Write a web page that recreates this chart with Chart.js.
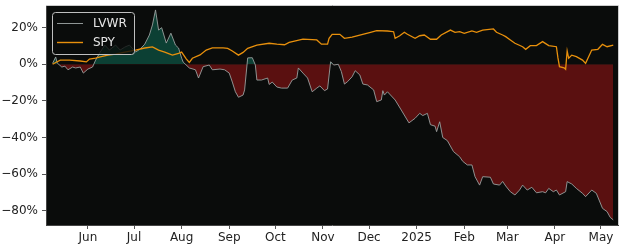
<!DOCTYPE html>
<html>
<head>
<meta charset="utf-8">
<script src="https://cdn.jsdelivr.net/npm/chart.js@4.4.1/dist/chart.umd.min.js"></script>
<style>
  body { margin: 0; background: #ffffff; }
  #wrap { width: 625px; height: 250px; }
</style>
</head>
<body>
<div id="wrap"><canvas id="myChart" width="625" height="250"></canvas></div>
<script>
// LVWR return vs SPY, % since start
var lvwrDates = ['2024-05-09','2024-05-11','2024-05-12','2024-05-15','2024-05-17','2024-05-19','2024-05-22','2024-05-24','2024-05-27','2024-05-29',
    '2024-06-01','2024-06-04','2024-06-06','2024-06-09','2024-06-12','2024-06-15','2024-06-19','2024-06-22','2024-06-25','2024-06-28',
    '2024-07-02','2024-07-05','2024-07-08','2024-07-11','2024-07-13','2024-07-15','2024-07-17','2024-07-19','2024-07-22','2024-07-25',
    '2024-07-28','2024-07-30','2024-08-01','2024-08-02','2024-08-06','2024-08-10','2024-08-12','2024-08-15','2024-08-19','2024-08-21',
    '2024-08-26','2024-08-29','2024-09-01','2024-09-03','2024-09-05','2024-09-07','2024-09-10','2024-09-11','2024-09-13','2024-09-16',
    '2024-09-18','2024-09-19','2024-09-22','2024-09-26','2024-09-27','2024-09-29','2024-10-02','2024-10-05','2024-10-09','2024-10-12',
    '2024-10-15','2024-10-16','2024-10-19','2024-10-22','2024-10-25','2024-10-28','2024-10-30','2024-11-02','2024-11-04','2024-11-06',
    '2024-11-08','2024-11-11','2024-11-13','2024-11-15','2024-11-17','2024-11-20','2024-11-22','2024-11-25','2024-11-27','2024-11-30',
    '2024-12-04','2024-12-06','2024-12-09','2024-12-10','2024-12-11','2024-12-13','2024-12-18','2024-12-22','2024-12-27','2024-12-31',
    '2025-01-03','2025-01-05','2025-01-08','2025-01-10','2025-01-13','2025-01-14','2025-01-16','2025-01-18','2025-01-21','2025-01-25',
    '2025-01-29','2025-01-31','2025-02-03','2025-02-06','2025-02-08','2025-02-11','2025-02-13','2025-02-18','2025-02-20','2025-02-24',
    '2025-02-26','2025-02-28','2025-03-03','2025-03-06','2025-03-09','2025-03-11','2025-03-14','2025-03-17','2025-03-20','2025-03-24',
    '2025-03-26','2025-03-28','2025-03-31','2025-04-02','2025-04-04','2025-04-08','2025-04-09','2025-04-12','2025-04-15','2025-04-19',
    '2025-04-21','2025-04-25','2025-04-28','2025-05-02','2025-05-05','2025-05-07','2025-05-09'];
var lvwrValues = [0.5, 4.0, 0.7, -1.5, -1.0, -3.0, -1.5, -2.0, -1.5, -4.8,
    -2.6, -1.5, 2.3, 6.7, 10.5, 7.8, 10.5, 7.8, 9.4, 10.5,
    6.7, 8.3, 11.0, 16.0, 21.5, 29.7, 18.7, 20.0, 11.6, 17.0,
    10.5, 8.9, 3.4, 1.2, -2.0, -3.0, -7.5, -1.3, -0.4, -3.0,
    -2.6, -3.0, -4.8, -9.7, -15.0, -18.0, -16.8, -14.0, 3.5, 3.6,
    -0.4, -8.6, -8.6, -7.5, -11.0, -9.7, -12.4, -13.0, -13.0, -8.6,
    -7.5, -2.0, -4.8, -7.5, -15.0, -13.0, -11.8, -14.4, -13.5, 1.4,
    -0.4, 0.0, -4.0, -10.8, -9.5, -6.8, -3.5, -5.8, -10.8, -11.3,
    -14.0, -20.4, -19.5, -14.4, -16.8, -15.0, -19.5, -25.0, -32.0, -29.5,
    -26.8, -28.0, -26.8, -33.0, -33.8, -36.8, -31.4, -40.0, -41.7, -47.7,
    -50.5, -53.0, -55.0, -55.0, -61.4, -66.0, -61.4, -61.7, -65.4, -66.0,
    -64.0, -66.5, -69.6, -71.4, -68.7, -66.0, -68.7, -67.2, -70.2, -69.6,
    -70.2, -67.8, -69.6, -68.7, -71.4, -69.6, -64.1, -65.4, -67.8, -70.5,
    -72.3, -68.7, -70.5, -78.7, -80.5, -83.6, -85.0];

var spyDates = ['2024-05-09','2024-05-11','2024-05-14','2024-05-20','2024-05-27','2024-05-31','2024-06-02','2024-06-06','2024-06-09','2024-06-14',
    '2024-06-19','2024-06-25','2024-07-02','2024-07-08','2024-07-13','2024-07-17','2024-07-21','2024-07-26','2024-07-30','2024-08-01',
    '2024-08-04','2024-08-06','2024-08-08','2024-08-13','2024-08-17','2024-08-21','2024-08-28','2024-08-31','2024-09-03','2024-09-07',
    '2024-09-10','2024-09-13','2024-09-19','2024-09-27','2024-10-02','2024-10-07','2024-10-10','2024-10-19','2024-10-28','2024-10-31',
    '2024-11-04','2024-11-05','2024-11-07','2024-11-12','2024-11-15','2024-11-20','2024-11-25','2024-12-02','2024-12-06','2024-12-13',
    '2024-12-17','2024-12-18','2024-12-21','2024-12-24','2024-12-26','2024-12-31','2025-01-03','2025-01-06','2025-01-10','2025-01-14',
    '2025-01-17','2025-01-23','2025-01-26','2025-01-29','2025-02-01','2025-02-06','2025-02-09','2025-02-13','2025-02-20','2025-02-22',
    '2025-02-26','2025-02-28','2025-03-03','2025-03-06','2025-03-11','2025-03-13','2025-03-16','2025-03-20','2025-03-24','2025-03-28',
    '2025-04-02','2025-04-03','2025-04-04','2025-04-07','2025-04-08','2025-04-09','2025-04-10','2025-04-12','2025-04-15','2025-04-19',
    '2025-04-21','2025-04-25','2025-04-29','2025-05-02','2025-05-05','2025-05-09'];
var spyValues = [0.0, 1.0, 2.3, 2.3, 1.8, 1.3, 2.9, 3.4, 4.0, 5.0,
    5.6, 6.7, 7.8, 8.9, 9.5, 7.8, 6.7, 5.0, 6.0, 6.7,
    3.0, 1.0, 3.3, 5.1, 7.8, 9.0, 9.0, 8.7, 7.3, 5.0,
    6.5, 8.7, 10.5, 11.5, 11.0, 10.7, 12.0, 13.8, 13.3, 11.0,
    11.0, 14.2, 16.4, 16.4, 14.2, 14.9, 16.0, 17.5, 18.4, 18.2,
    17.8, 14.2, 15.6, 17.5, 16.4, 14.2, 15.6, 16.0, 13.7, 13.7,
    16.0, 18.7, 17.5, 17.8, 16.9, 18.2, 17.5, 18.7, 19.3, 17.5,
    16.0, 15.1, 13.3, 11.5, 9.6, 8.2, 10.2, 10.2, 12.4, 10.2,
    9.6, 3.5, -1.3, -1.9, -2.7, 7.3, 3.3, 5.0, 4.2, 2.3,
    0.5, 7.8, 8.2, 10.9, 9.6, 10.5];

var tickDates = ['2024-06-01','2024-07-01','2024-08-01','2024-09-01','2024-10-01','2024-11-01',
    '2024-12-01','2025-01-01','2025-02-01','2025-03-01','2025-04-01','2025-05-01'];
var tickLabels = ['Jun','Jul','Aug','Sep','Oct','Nov','Dec','2025','Feb','Mar','Apr','May'];
var yTicks = [-80, -60, -40, -20, 0, 20];

function dayNum(s) {
    return Date.parse(s + 'T00:00:00Z') / 864e5;
}

var lvwrPoints = lvwrDates.map(function (d, i) { return { x: dayNum(d), y: lvwrValues[i] }; });
var spyPoints = spyDates.map(function (d, i) { return { x: dayNum(d), y: spyValues[i] }; });
var tickDays = tickDates.map(dayNum);

// dark plot face, frame and legend box
var framePlugin = {
    id: 'frame',
    beforeDraw: function (chart) {
        var a = chart.chartArea, ctx = chart.ctx;
        ctx.save();
        ctx.fillStyle = '#0a0c0b';
        ctx.fillRect(a.left, a.top, a.right - a.left, a.bottom - a.top);
        ctx.restore();
    },
    afterDraw: function (chart) {
        var a = chart.chartArea, ctx = chart.ctx;
        ctx.save();
        ctx.lineWidth = 1;
        ctx.strokeStyle = '#cccccc';
        ctx.beginPath();
        ctx.moveTo(a.left, a.top + 0.5);
        ctx.lineTo(a.right + 0.5, a.top + 0.5);
        ctx.lineTo(a.right + 0.5, a.bottom);
        ctx.stroke();

        // legend
        var x = 52, y = 12, w = 82, h = 42;
        ctx.fillStyle = 'rgba(10,12,11,0.8)';
        ctx.strokeStyle = '#bfbfbf';
        ctx.beginPath();
        ctx.roundRect(x + 0.5, y + 0.5, w, h, 3);
        ctx.fill();
        ctx.stroke();
        var items = [['LVWR', '#8f9695', 23], ['SPY', '#e8900c', 42]];
        ctx.font = '12px "DejaVu Sans"';
        ctx.textBaseline = 'middle';
        items.forEach(function (it) {
            ctx.strokeStyle = it[1];
            ctx.lineWidth = it[0] === 'SPY' ? 1.4 : 1;
            ctx.beginPath();
            ctx.moveTo(57, it[2] + 0.5);
            ctx.lineTo(83, it[2] + 0.5);
            ctx.stroke();
            ctx.fillStyle = '#e6e6e6';
            ctx.fillText(it[0], 93, it[2] + 0.5);
        });
        ctx.restore();
    }
};

var ctx = document.getElementById('myChart').getContext('2d');
var myChart = new Chart(ctx, {
    type: 'line',
    data: {
        datasets: [{
            label: 'SPY',
            data: spyPoints,
            borderColor: '#e8900c',
            borderWidth: 1.3,
            pointRadius: 0,
            fill: false,
            tension: 0,
            order: 1
        }, {
            label: 'LVWR',
            data: lvwrPoints,
            borderColor: '#9aa09f',
            borderWidth: 0.9,
            pointRadius: 0,
            tension: 0,
            fill: {
                target: { value: 0 },
                above: '#0c4034',
                below: '#5a1010'
            },
            order: 2
        }]
    },
    options: {
        responsive: false,
        animation: false,
        layout: { padding: { top: 5, right: 7, left: 0, bottom: 0 } },
        plugins: {
            legend: { display: false },
            tooltip: { enabled: false }
        },
        scales: {
            x: {
                type: 'linear',
                min: dayNum('2024-06-01') - 27.3,
                max: dayNum('2024-06-01') + 345.1,
                afterBuildTicks: function (scale) {
                    scale.ticks = tickDays.map(function (v) { return { value: v }; });
                },
                afterFit: function (scale) {
                    scale.height = 25;
                    scale.paddingLeft = 0;
                    scale.paddingRight = 0;
                },
                ticks: {
                    autoSkip: false,
                    maxRotation: 0,
                    padding: 2,
                    color: '#222222',
                    font: { family: 'DejaVu Sans', size: 12 },
                    callback: function (v) {
                        var i = tickDays.indexOf(v);
                        return i >= 0 ? tickLabels[i] : '';
                    }
                },
                grid: { drawOnChartArea: false, tickLength: 4, color: '#555555' },
                border: { color: '#444444' }
            },
            y: {
                min: -87.8,
                max: 32.4,
                afterBuildTicks: function (scale) {
                    scale.ticks = yTicks.map(function (v) { return { value: v }; });
                },
                afterFit: function (scale) {
                    scale.width = 46;
                    scale.paddingTop = 0;
                    scale.paddingBottom = 0;
                },
                ticks: {
                    padding: 4,
                    color: '#222222',
                    font: { family: 'DejaVu Sans', size: 12 },
                    callback: function (v) {
                        return (v < 0 ? '\u2212' : '') + Math.abs(v) + '%';
                    }
                },
                grid: { drawOnChartArea: false, tickLength: 4, color: '#555555' },
                border: { color: '#444444' }
            }
        }
    },
    plugins: [framePlugin]
});
</script>
</body>
</html>
